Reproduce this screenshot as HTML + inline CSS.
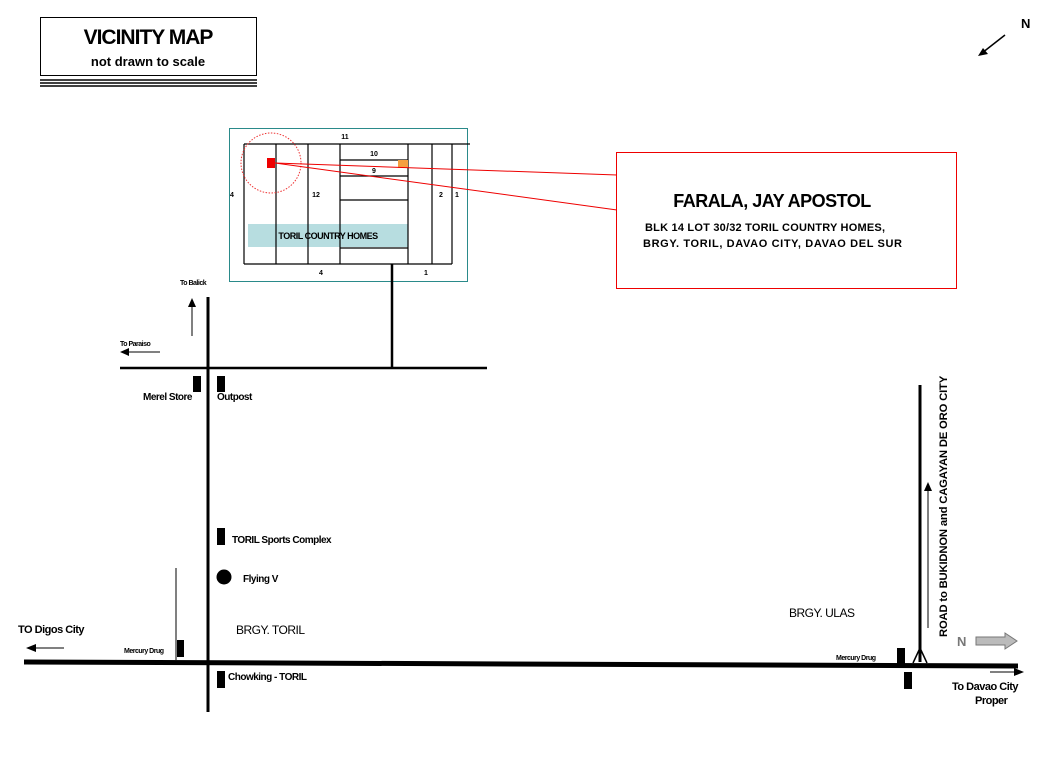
<!DOCTYPE html>
<html><head><style>body{margin:0;background:#fff}svg{display:block}text{font-family:"Liberation Sans",Arial,sans-serif;font-weight:bold}</style></head>
<body>
<svg width="1056" height="768" viewBox="0 0 1056 768" xmlns="http://www.w3.org/2000/svg">
<rect x="40.5" y="17.5" width="216" height="58" fill="#fff" stroke="#000"/>
<text x="148" y="44" font-size="21" text-anchor="middle" letter-spacing="-1">VICINITY MAP</text>
<text x="148" y="66" font-size="13" text-anchor="middle">not drawn to scale</text>
<g stroke="#000" stroke-width="1.5"><line x1="40" y1="80" x2="257" y2="80"/><line x1="40" y1="83" x2="257" y2="83"/><line x1="40" y1="86" x2="257" y2="86"/></g>
<text x="1021" y="28" font-size="13">N</text>
<line x1="1005" y1="35" x2="982" y2="53" stroke="#000" stroke-width="1.5"/>
<polygon points="978,56 983,48 988,54" fill="#000"/>
<rect x="229.5" y="128.5" width="238" height="153" fill="#fff" stroke="#2a8a8a"/>
<rect x="248" y="224" width="160" height="23" fill="#b7dde0"/>
<g stroke="#000" stroke-width="1.2" fill="none">
<line x1="244" y1="144" x2="470" y2="144"/>
<line x1="244" y1="264" x2="452" y2="264"/>
<line x1="244" y1="144" x2="244" y2="264"/>
<line x1="276" y1="144" x2="276" y2="264"/>
<line x1="308" y1="144" x2="308" y2="264"/>
<line x1="340" y1="144" x2="340" y2="264"/>
<line x1="408" y1="144" x2="408" y2="264"/>
<line x1="432" y1="144" x2="432" y2="264"/>
<line x1="452" y1="144" x2="452" y2="264"/>
<line x1="340" y1="160" x2="408" y2="160"/>
<line x1="340" y1="176" x2="408" y2="176"/>
<line x1="340" y1="200" x2="408" y2="200"/>
<line x1="340" y1="248" x2="408" y2="248"/>
</g>
<rect x="398" y="160" width="10" height="8" fill="#f5a040"/>
<circle cx="271" cy="163" r="30" fill="none" stroke="#e33" stroke-dasharray="1.5,1.5"/>
<rect x="267" y="158" width="8" height="10" fill="#e00"/>
<g font-size="7" text-anchor="middle">
<text x="345" y="139">11</text><text x="374" y="156">10</text><text x="374" y="173">9</text>
<text x="316" y="197">12</text><text x="232" y="197">4</text><text x="441" y="197">2</text><text x="457" y="197">1</text>
<text x="321" y="275">4</text><text x="426" y="275">1</text>
</g>
<text x="328" y="239" font-size="9" text-anchor="middle" letter-spacing="-0.5">TORIL COUNTRY HOMES</text>
<line x1="275" y1="163" x2="617" y2="175" stroke="#e00"/>
<line x1="275" y1="163" x2="617" y2="210" stroke="#e00"/>
<rect x="616.5" y="152.5" width="340" height="136" fill="#fff" stroke="#e00"/>
<text x="772" y="207" font-size="18" text-anchor="middle" letter-spacing="-0.5">FARALA, JAY APOSTOL</text>
<text x="645" y="231" font-size="11" textLength="240" lengthAdjust="spacing">BLK 14 LOT 30/32 TORIL COUNTRY HOMES,</text>
<text x="643" y="247" font-size="11" textLength="259" lengthAdjust="spacing">BRGY. TORIL, DAVAO CITY, DAVAO DEL SUR</text>
<g stroke="#000" fill="none">
<line x1="392" y1="264" x2="392" y2="368" stroke-width="2.5"/>
<line x1="120" y1="368" x2="487" y2="368" stroke-width="2.5"/>
<line x1="208" y1="297" x2="208" y2="712" stroke-width="3"/>
<line x1="192" y1="336" x2="192" y2="304" stroke-width="1"/>
<line x1="160" y1="352" x2="126" y2="352" stroke-width="1"/>
<line x1="176" y1="568" x2="176" y2="660" stroke-width="1"/>
<line x1="24" y1="662" x2="1018" y2="666" stroke-width="5"/>
<line x1="64" y1="648" x2="32" y2="648" stroke-width="1"/>
<line x1="920" y1="385" x2="920" y2="662" stroke-width="3"/>
<line x1="920" y1="648" x2="913" y2="663" stroke-width="1.5"/>
<line x1="920" y1="648" x2="927" y2="663" stroke-width="1.5"/>
<line x1="928" y1="628" x2="928" y2="490" stroke-width="1"/>
<line x1="990" y1="672" x2="1016" y2="672" stroke-width="1"/>
</g>
<polygon points="192,298 188,307 196,307" fill="#000"/>
<polygon points="120,352 129,348 129,356" fill="#000"/>
<polygon points="26,648 36,644 36,652" fill="#000"/>
<polygon points="928,482 924,491 932,491" fill="#000"/>
<polygon points="1024,672 1014,668 1014,676" fill="#000"/>
<g fill="#000">
<rect x="193" y="376" width="8" height="16"/><rect x="217" y="376" width="8" height="16"/>
<rect x="217" y="528" width="8" height="17"/><circle cx="224" cy="577" r="7.5"/>
<rect x="177" y="640" width="7" height="17"/><rect x="217" y="671" width="8" height="17"/>
<rect x="897" y="648" width="8" height="16"/><rect x="904" y="672" width="8" height="17"/>
</g>
<g font-size="10" letter-spacing="-0.5">
<text x="180" y="285" font-size="7">To Balick</text>
<text x="120" y="346" font-size="7">To Paraiso</text>
<text x="143" y="400">Merel Store</text>
<text x="217" y="400">Outpost</text>
<text x="232" y="543">TORIL Sports Complex</text>
<text x="243" y="582">Flying V</text>
<text x="18" y="633" font-size="11">TO Digos City</text>
<text x="124" y="653" font-size="7">Mercury Drug</text>
<text x="236" y="634" font-size="12" style="font-weight:normal">BRGY. TORIL</text>
<text x="228" y="680">Chowking - TORIL</text>
<text x="789" y="617" font-size="12" style="font-weight:normal">BRGY. ULAS</text>
<text x="836" y="660" font-size="7">Mercury Drug</text>
<text x="952" y="690" font-size="11">To  Davao City</text>
<text x="975" y="704" font-size="11">Proper</text>
</g>
<text transform="translate(947,637) rotate(-90)" font-size="11.3" letter-spacing="-0.2">ROAD to BUKIDNON and CAGAYAN DE ORO CITY</text>
<text x="957" y="646" font-size="13" fill="#777">N</text>
<polygon points="976,637 1005,637 1005,633 1017,641 1005,649 1005,645 976,645" fill="#bbb" stroke="#777"/>
</svg>
</body></html>
